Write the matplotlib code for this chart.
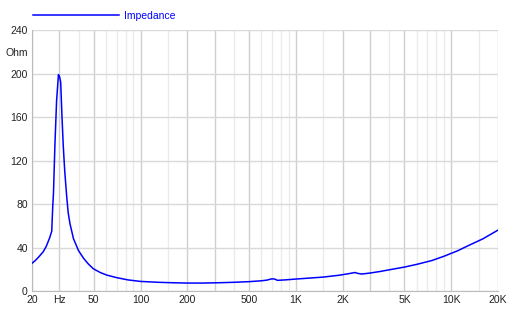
import matplotlib
matplotlib.use('Agg')
import matplotlib.pyplot as plt

plt.rcParams['font.family'] = ['Liberation Sans', 'DejaVu Sans']

# Impedance curve
freq = [20, 21, 22, 23.6, 24.7, 26, 26.8, 27.2, 27.5, 28.1, 28.8, 29.6, 30.1,
        30.6, 31.2, 31.8, 32.5, 33.4, 34.2, 35.1, 37, 39.9, 43, 46, 49.6, 55,
        60.4, 70, 83, 100, 130, 160, 200, 250, 320, 400, 500, 600, 650, 700,
        730, 760, 850, 1000, 1200, 1500, 1900, 2200, 2400, 2500, 2650, 3000,
        3500, 4100, 5000, 6000, 7500, 9000, 11000, 13000, 16000, 20000]
impedance = [25.5, 28, 31, 36, 41, 49, 55, 78, 90, 135, 175, 199, 197,
             192, 160, 133, 110, 88, 72, 62, 48, 37, 30, 25, 20.5, 17,
             14.7, 12.3, 10.2, 8.8, 8, 7.6, 7.3, 7.3, 7.6, 8, 8.6, 9.4, 10, 11.2,
             11, 9.8, 10.2, 11, 11.8, 12.8, 14.5, 16, 17, 16.2, 15.6, 16.5,
             18, 19.8, 22, 24.5, 28, 32, 37, 42, 48, 56]

x_ticks = [20, 30, 50, 100, 200, 500, 1000, 2000, 5000, 10000, 20000]
x_labels = ['20', 'Hz', '50', '100', '200', '500', '1K', '2K', '5K', '10K', '20K']
y_ticks = [0, 40, 80, 120, 160, 200, 220, 240]
y_labels = ['0', '40', '80', '120', '160', '200', 'Ohm', '240']

major_grid = [20, 30, 50, 100, 200, 300, 500, 1000, 2000, 3000, 5000, 10000, 20000]
minor_grid = [40, 60, 70, 80, 90, 150, 400, 600, 700, 800, 900, 1500,
              4000, 6000, 7000, 8000, 9000, 15000]

fig = plt.figure(figsize=(5.22, 3.25), dpi=100)
ax = fig.add_axes([32 / 522, 34 / 325, 466 / 522, 261 / 325])

for f in minor_grid:
    ax.axvline(f, color='#ebebeb', lw=1, zorder=0)
for f in major_grid:
    ax.axvline(f, color='#cfcfcf', lw=1, zorder=1)
for v in range(0, 241, 40):
    ax.axhline(v, color='#d9d9d9', lw=1, zorder=1)

ax.plot(freq, impedance, color='#0000ff', lw=1.1, label='Impedance', zorder=3)

ax.set_xscale('log')
ax.set_xlim(20, 20000)
ax.set_ylim(0, 240)
ax.set_xticks(x_ticks)
ax.set_xticklabels(x_labels)
ax.set_xticks([], minor=True)
ax.set_yticks(y_ticks)
ax.set_yticklabels(y_labels)
ax.tick_params(length=0, labelsize=7.5, pad=3, colors='#222222')
for s in ax.spines.values():
    s.set_visible(False)
ax.spines['left'].set_visible(True)
ax.spines['left'].set_color('#bbbbbb')
ax.spines['bottom'].set_visible(True)
ax.spines['bottom'].set_color('#bbbbbb')

ax.legend(loc='center left', bbox_to_anchor=(33 / 522, 1 - 16 / 325),
          bbox_transform=fig.transFigure, frameon=False,
          handlelength=8.3, handletextpad=0.4, fontsize=7.5, labelcolor='#0000ff',
          borderaxespad=0, borderpad=0)

fig.savefig('out.png', dpi=100)
